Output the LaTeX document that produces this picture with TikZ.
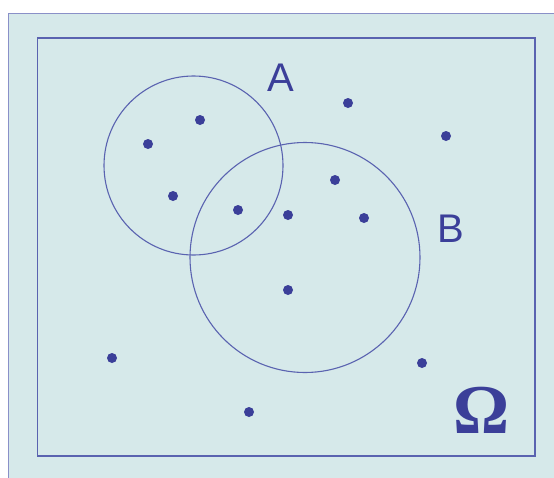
\documentclass[tikz,border=0pt]{standalone}
\usepackage{fontspec}
\setmainfont{Liberation Sans}
\newfontfamily\omegafont{Liberation Serif}
\usepackage{tikz}
\usetikzlibrary{positioning}
\definecolor{sheet}{HTML}{D6E9EA}
\definecolor{frame}{HTML}{8A90C8}
\definecolor{setline}{HTML}{5A63B0}
\definecolor{ink}{HTML}{3B3F99}

\begin{document}
\begin{tikzpicture}[x=1pt,y=-1pt,
  pt/.style={circle,fill=ink,inner sep=0pt,minimum size=10pt},
  setc/.style={draw=setline,line width=1.1pt},
  lbl/.style={text=ink,font=\fontsize{40}{40}\selectfont,inner sep=0pt}]
  \useasboundingbox (0,0) rectangle (554,477);
  \fill[white] (0,0) rectangle (554,477);
  \draw[frame,fill=sheet,line width=1.4pt] (8.5,13.5) rectangle (570,490);
  \draw[setline,line width=1.3pt] (37.5,38) rectangle (535,456);
  % the two sets
  \draw[setc] (193.5,165.5) circle[radius=89.5];
  \draw[setc] (305,257.5) circle[radius=115];
  \node[lbl] (la) at (281,78) {A};
  \node[lbl] (lb) at (451,229) {B};
  \node[text=ink,inner sep=0pt,font=\omegafont\bfseries\fontsize{70}{70}\selectfont] (om) at (482,410) {Ω};
  % outcomes
  \node[pt] (p1) at (200,120) {};
  \node[pt] (p2) at (148,144) {};
  \node[pt] (p3) at (173,196) {};
  \node[pt] (p4) at (238,210) {};
  \node[pt] (p5) at (288,215) {};
  \node[pt] (p6) at (335,180) {};
  \node[pt] (p7) at (364,218) {};
  \node[pt] (p8) at (288,290) {};
  \node[pt] (p9) at (348,103) {};
  \node[pt] (p10) at (446,136) {};
  \node[pt] (p11) at (112,358) {};
  \node[pt] (p12) at (422,363) {};
  \node[pt] (p13) at (249,412) {};
\end{tikzpicture}
\end{document}
